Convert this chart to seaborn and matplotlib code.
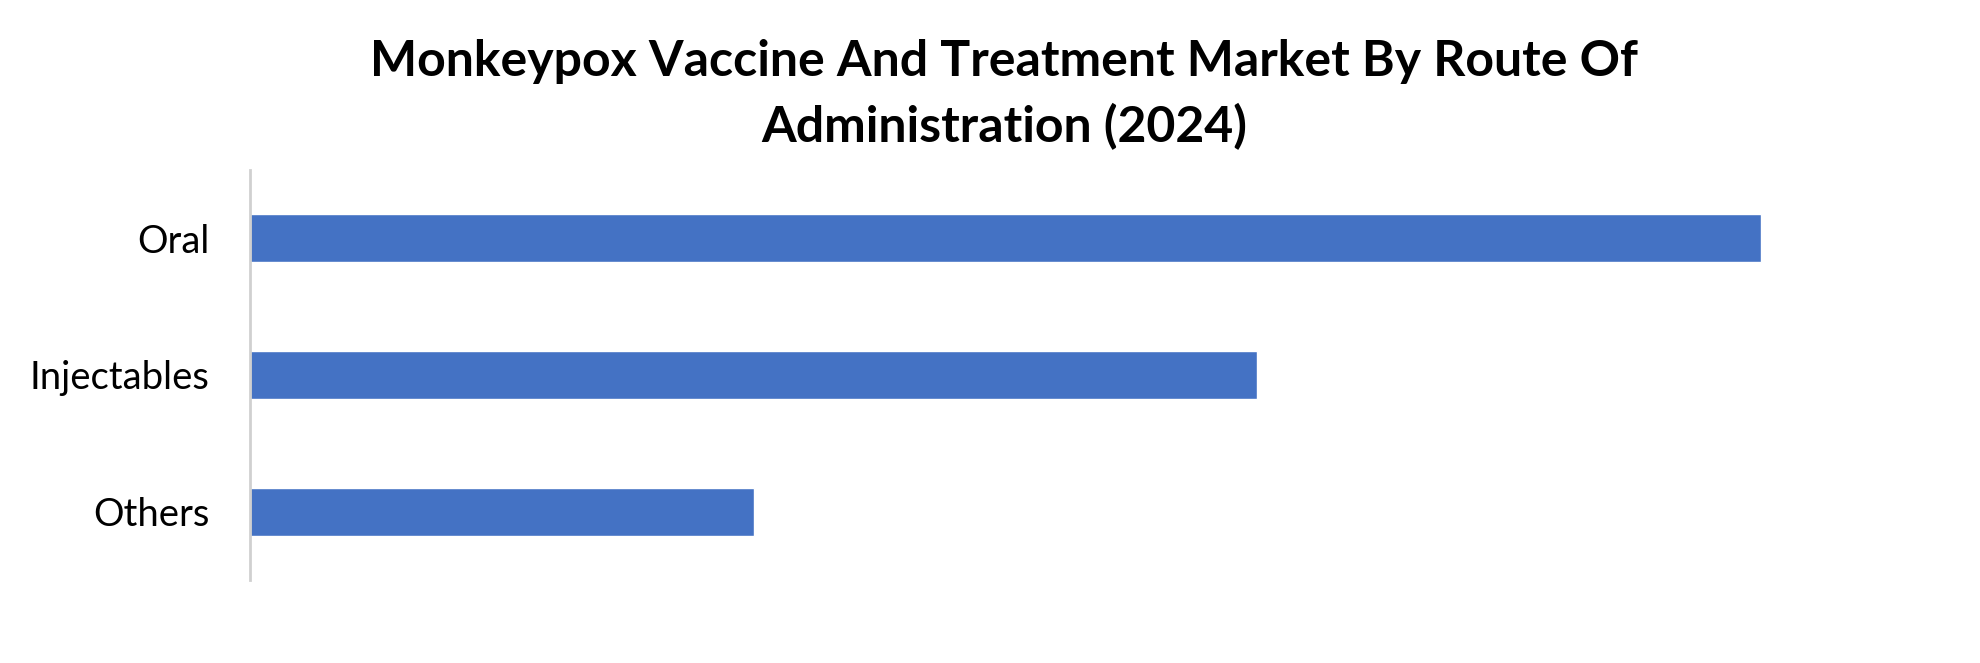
import matplotlib.pyplot as plt
import seaborn as sns
import pandas as pd

# Data
categories = ['Oral', 'Injectables', 'Others']
values = [60, 40, 20]
title = 'Monkeypox Vaccine And Treatment Market By Route Of\nAdministration (2024)'

sns.set_theme(style='white')
plt.rcParams['font.family'] = ['Lato', 'DejaVu Sans']

df = pd.DataFrame({'route': categories, 'share': values})

fig = plt.figure(figsize=(19.8, 6.63), dpi=100)
ax = fig.add_axes([0.1263, 0.1252, 0.8013, 0.6184])

sns.barplot(data=df, x='share', y='route', orient='h', color='#4472C4',
            saturation=1, width=0.35, ax=ax)

ax.set_xlim(0, 63)
ax.set_ylim(2.5, -0.5)
ax.set_xlabel('')
ax.set_ylabel('')
ax.set_xticks([])
ax.tick_params(axis='y', length=0, pad=29, labelsize=27.5, labelcolor='black')

for side in ['top', 'right', 'bottom']:
    ax.spines[side].set_visible(False)
ax.spines['left'].set_color('#d0d0d0')
ax.spines['left'].set_linewidth(2)

fig.text(0.507, 0.857, title, ha='center', va='center', fontsize=36,
         fontweight='bold', color='black', linespacing=1.48)

fig.savefig('out.png', dpi=100, facecolor='white')
